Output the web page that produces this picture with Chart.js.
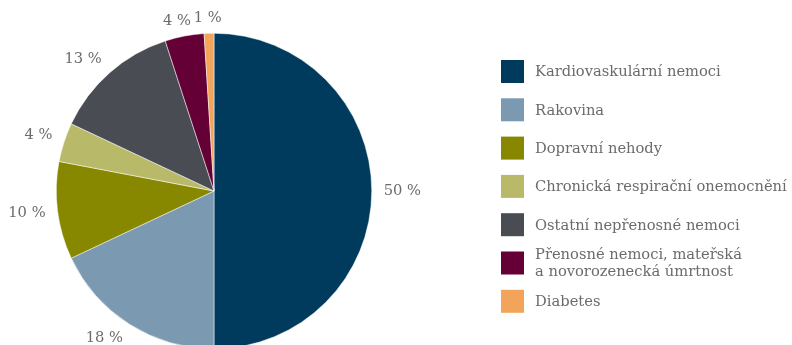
<!DOCTYPE html>
<html>
<head>
<meta charset="utf-8">
<script src="https://cdn.jsdelivr.net/npm/chart.js@4"></script>
<style>
  html,body{margin:0;padding:0;background:#fff;overflow:hidden;}
  #wrap{position:relative;width:792px;height:360px;}
</style>
</head>
<body>
<div id="wrap"><canvas id="c" width="792" height="360"></canvas></div>
<script>
// podíly příčin úmrtí (%)
const labels=[
  'Kardiovaskulární nemoci',
  'Rakovina',
  'Dopravní nehody',
  'Chronická respirační onemocnění',
  'Ostatní nepřenosné nemoci',
  ['Přenosné nemoci, mateřská','a novorozenecká úmrtnost'],
  'Diabetes'
];
const values=[50,18,10,4,13,4,1];
const colors=['#003a5c','#7b9ab2','#878700','#b9b96a','#4a4c54','#640035','#f2a55a'];

const FONT='"DejaVu Serif", serif';
const TXT='#6b6b6b';
const clamp=(v,a,b)=>Math.max(a,Math.min(b,v));

// popisky procent vně výsečí
const outLabels={
  id:'outLabels',
  afterDatasetsDraw(chart){
    const c=chart.ctx, meta=chart.getDatasetMeta(0);
    c.save();
    c.font='14.7px '+FONT; c.fillStyle=TXT;
    c.textAlign='center'; c.textBaseline='middle';
    meta.data.forEach((arc,i)=>{
      const a=(arc.startAngle+arc.endAngle)/2;
      const r=arc.outerRadius;
      const s=values[i]+' %';
      const w=c.measureText(s).width;
      const ca=Math.cos(a), sa=Math.sin(a);
      const x=arc.x+ca*(r+12)+clamp(ca*2,-1,1)*w/2;
      const y=arc.y+sa*(r+7)+clamp(sa*2,-1,1)*8;
      c.fillText(s,x,y);
    });
    c.restore();
  }
};

// legenda vpravo
const sideLegend={
  id:'sideLegend',
  afterDraw(chart){
    const c=chart.ctx;
    c.save();
    c.font='14.7px '+FONT; c.textBaseline='middle'; c.textAlign='left';
    const x0=501, y0=71.5, step=38.3;
    labels.forEach((l,i)=>{
      const cy=y0+i*step;
      c.fillStyle=colors[i];
      c.fillRect(x0,cy-11.5,23,23);
      c.fillStyle=TXT;
      const lines=Array.isArray(l)?l:[l];
      const lh=17;
      lines.forEach((t,j)=>{
        c.fillText(t,x0+34,cy+1-(lines.length-1)*lh/2+j*lh);
      });
    });
    c.restore();
  }
};

new Chart(document.getElementById('c'),{
  type:'pie',
  data:{labels,datasets:[{data:values,backgroundColor:colors,borderColor:'#ffffff',borderWidth:0.5}]},
  options:{
    responsive:false,animation:false,
    layout:{padding:{left:56,right:420,top:33,bottom:11}},
    plugins:{legend:{display:false},tooltip:{enabled:false}}
  },
  plugins:[outLabels,sideLegend]
});
</script>
</body>
</html>
